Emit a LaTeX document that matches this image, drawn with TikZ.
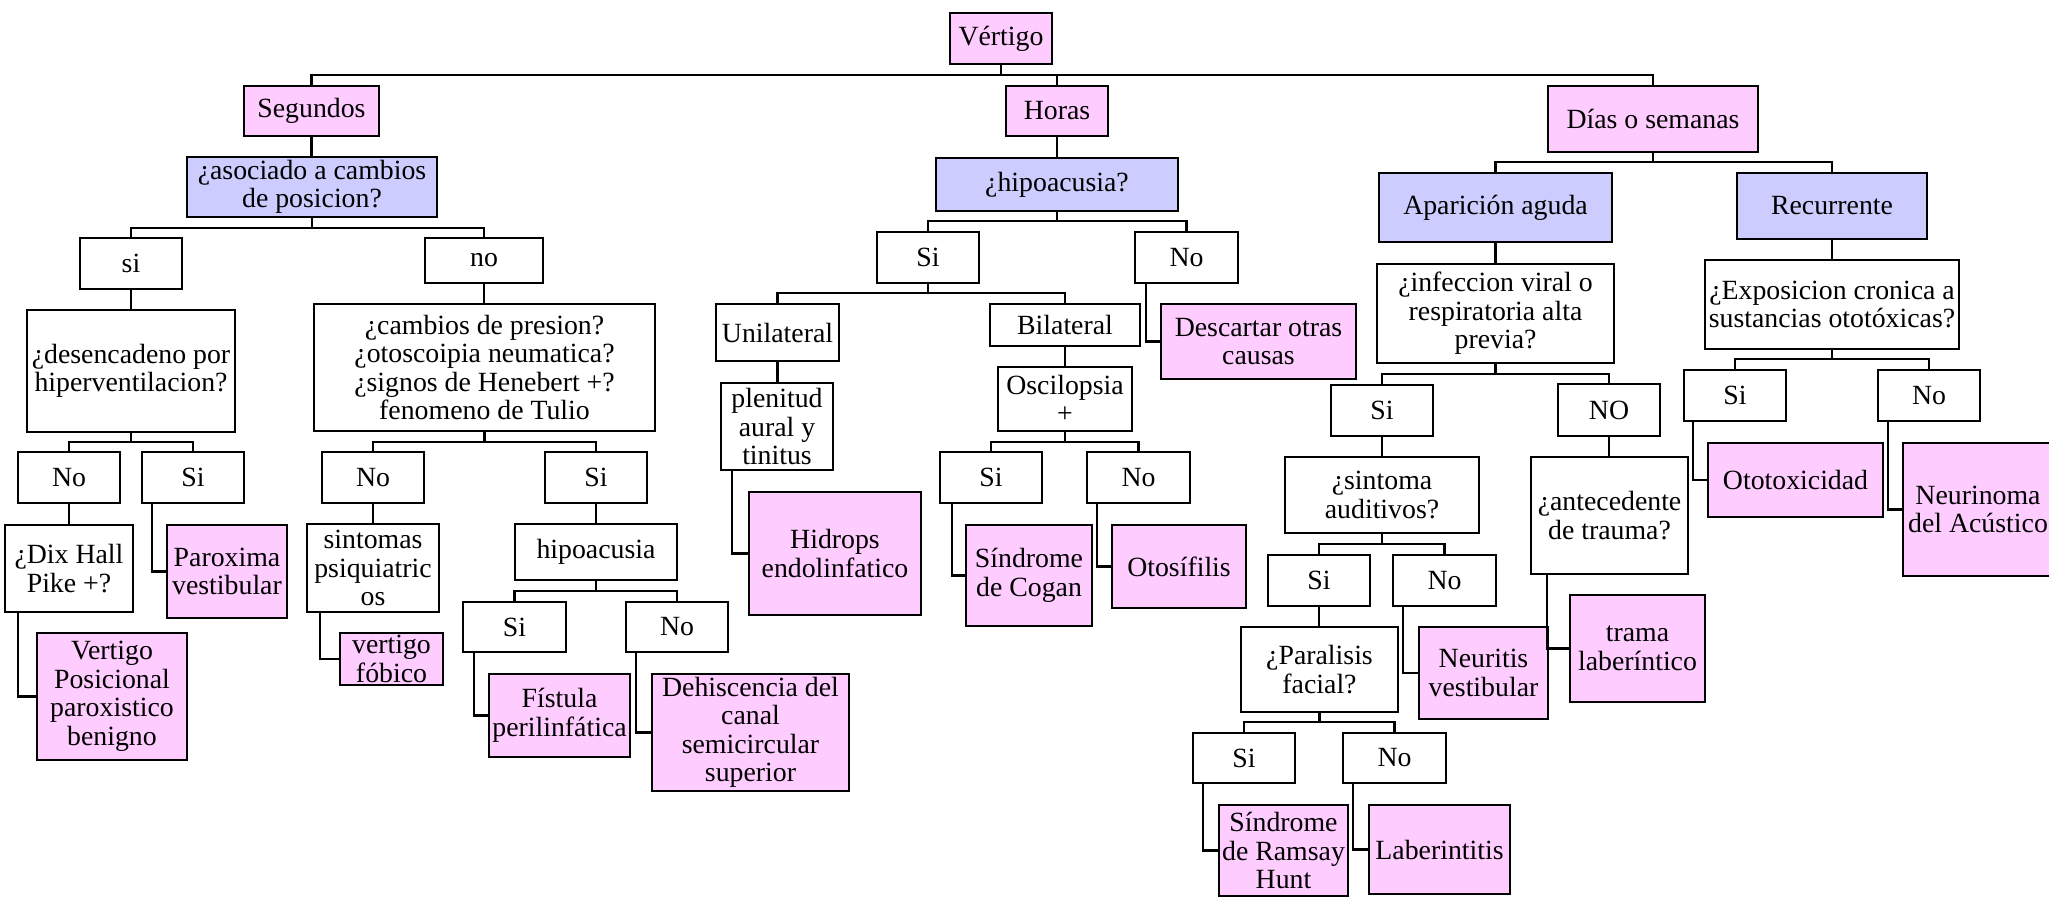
\documentclass[tikz,border=0pt]{standalone}
\usepackage{fontspec}
\setmainfont{Liberation Serif}
\definecolor{pk}{HTML}{FFCCFF}
\definecolor{bl}{HTML}{CCCCFF}
\tikzset{
  base/.style={rectangle, draw=black, line width=2.8pt, inner sep=0pt, outer sep=0pt,
    align=center, font=\fontsize{27.8pt}{28.5pt}\selectfont},
  wb/.style={base, fill=white},
  pb/.style={base, fill=pk},
  bb/.style={base, fill=bl},
  conn/.style={draw=black, line width=2.7pt, line cap=rect},
}
% #1 style, #2 name, #3 left, #4 top, #5 right, #6 bottom, #7 text
\newcommand{\mybox}[7]{%
  \node[#1, minimum width={(#5)-(#3)}, minimum height={(#6)-(#4)}]
    (#2) at ({((#3)+(#5))/2},{((#4)+(#6))/2}) {#7};}
\begin{document}
\begin{tikzpicture}[x=1pt,y=-1pt]
\useasboundingbox (0,0) rectangle (2049,898);
\fill[white] (0,0) rectangle (2049,898);

% ---------- nodes ----------
\mybox{pb}{V}{950}{13}{1052}{64}{Vértigo}
\mybox{pb}{Seg}{244}{86}{379}{136}{Segundos}
\mybox{pb}{Hor}{1006}{86}{1108}{136}{Horas}
\mybox{pb}{Dia}{1548}{86}{1758}{152}{Días o semanas}

% Segundos branch
\mybox{bb}{Aso}{187}{157}{437}{217}{¿asociado a cambios\\de posicion?}
\mybox{wb}{si}{80}{238}{182}{289}{si}
\mybox{wb}{no}{425}{238}{543}{283}{no}
\mybox{wb}{Des}{27}{310}{235}{432}{¿desencadeno por\\hiperventilacion?}
\mybox{wb}{Cam}{314}{304}{655}{431}{¿cambios de presion?\\¿otoscoipia neumatica?\\¿signos de Henebert +?\\fenomeno de Tulio}
\mybox{wb}{NoA}{18}{452}{120}{503}{No}
\mybox{wb}{SiA}{142}{452}{244}{503}{Si}
\mybox{wb}{Dix}{5}{525}{133}{612}{¿Dix Hall\\Pike +?}
\mybox{pb}{VPPB}{37}{633}{187}{760}{Vertigo\\Posicional\\paroxistico\\benigno}
\mybox{pb}{Parox}{167}{525}{287}{618}{Paroxima\\vestibular}
\mybox{wb}{NoB}{322}{452}{424}{503}{No}
\mybox{wb}{SiB}{545}{452}{647}{503}{Si}
\mybox{wb}{Sint}{307}{524}{439}{612}{sintomas\\psiquiatric\\os}
\mybox{pb}{Fob}{340}{633}{443}{685}{vertigo\\fóbico}
\mybox{wb}{Hipo}{515}{524}{677}{580}{hipoacusia}
\mybox{wb}{SiC}{463}{602}{566}{652}{Si}
\mybox{wb}{NoC}{626}{602}{728}{652}{No}
\mybox{pb}{Fist}{489}{674}{630}{757}{Fístula\\perilinfática}
\mybox{pb}{Dehi}{652}{674}{849}{791}{Dehiscencia del\\canal\\semicircular\\superior}

% Horas branch
\mybox{bb}{HipoQ}{936}{158}{1178}{211}{¿hipoacusia?}
\mybox{wb}{SiD}{877}{232}{979}{283}{Si}
\mybox{wb}{NoD}{1135}{232}{1238}{283}{No}
\mybox{wb}{Uni}{716}{304}{839}{361}{Unilateral}
\mybox{wb}{Bil}{990}{304}{1140}{346}{Bilateral}
\mybox{wb}{Plen}{721}{383}{833}{470}{plenitud\\aural y\\tinitus}
\mybox{pb}{Hid}{749}{492}{921}{615}{Hidrops\\endolinfatico}
\mybox{wb}{Osc}{998}{367}{1132}{431}{Oscilopsia\\+}
\mybox{pb}{Desc}{1161}{304}{1356}{379}{Descartar otras\\causas}
\mybox{wb}{SiE}{940}{452}{1042}{503}{Si}
\mybox{wb}{NoE}{1087}{452}{1190}{503}{No}
\mybox{pb}{Cog}{966}{525}{1092}{626}{Síndrome\\de Cogan}
\mybox{pb}{Otos}{1112}{525}{1246}{608}{Otosífilis}

% Dias branch
\mybox{bb}{Apa}{1379}{173}{1612}{242}{Aparición aguda}
\mybox{bb}{Rec}{1737}{173}{1927}{239}{Recurrente}
\mybox{wb}{Inf}{1377}{264}{1614}{363}{¿infeccion viral o\\respiratoria alta\\previa?}
\mybox{wb}{SiF}{1331}{385}{1433}{436}{Si}
\mybox{wb}{NoF}{1558}{384}{1660}{436}{NO}
\mybox{wb}{Sinto}{1285}{457}{1479}{533}{¿sintoma\\auditivos?}
\mybox{wb}{Ante}{1531}{457}{1688}{574}{¿antecedente\\de trauma?}
\mybox{wb}{SiG}{1268}{555}{1370}{606}{Si}
\mybox{wb}{NoG}{1393}{555}{1496}{606}{No}
\mybox{wb}{Par}{1241}{627}{1398}{712}{¿Paralisis\\facial?}
\mybox{pb}{Neur}{1419}{627}{1548}{719}{Neuritis\\vestibular}
\mybox{pb}{Trama}{1570}{595}{1705}{702}{trama\\laberíntico}
\mybox{wb}{SiH}{1193}{733}{1295}{783}{Si}
\mybox{wb}{NoH}{1343}{733}{1446}{783}{No}
\mybox{pb}{Ram}{1219}{805}{1348}{896}{Síndrome\\de Ramsay\\Hunt}
\mybox{pb}{Lab}{1369}{805}{1510}{894}{Laberintitis}
\mybox{wb}{Exp}{1705}{260}{1959}{349}{¿Exposicion cronica a\\sustancias ototóxicas?}
\mybox{wb}{SiI}{1684}{370}{1786}{421}{Si}
\mybox{wb}{NoI}{1878}{370}{1980}{421}{No}
\mybox{pb}{Otox}{1708}{443}{1883}{517}{Ototoxicidad}
\mybox{pb}{Neuri}{1903}{443}{2053}{576}{Neurinoma\\del Acústico}

% ---------- bus levels ----------
\coordinate (y0) at (0,75);
\coordinate (yAso) at (0,228);
\coordinate (yDes) at (0,442);
\coordinate (yCam) at (0,442);
\coordinate (yHipo) at (0,591);
\coordinate (yHQ) at (0,221);
\coordinate (ySiD) at (0,293);
\coordinate (yOsc) at (0,442);
\coordinate (yDia) at (0,162);
\coordinate (yInf) at (0,374);
\coordinate (ySinto) at (0,544);
\coordinate (yPar) at (0,722);
\coordinate (yExp) at (0,359);

% ---------- connectors ----------
\draw[conn] (V.south) -- (V.south |- y0) -| (Seg.north);
\draw[conn] (V.south |- y0) -| (Hor.north);
\draw[conn] (V.south |- y0) -| (Dia.north);

\draw[conn] (Seg.south) -- (Seg.south |- Aso.north);
\draw[conn] (Aso.south) -- (Aso.south |- yAso) -| (si.north);
\draw[conn] (Aso.south |- yAso) -| (no.north);
\draw[conn] (si.south) -- (si.south |- Des.north);
\draw[conn] (no.south) -- (no.south |- Cam.north);
\draw[conn] (Des.south) -- (Des.south |- yDes) -| (NoA.north);
\draw[conn] (Des.south |- yDes) -| (SiA.north);
\draw[conn] (NoA.south) -- (NoA.south |- Dix.north);
\draw[conn] ([xshift=13pt]Dix.south west) |- (VPPB.west);
\draw[conn] ([xshift=10pt]SiA.south west) |- (Parox.west);
\draw[conn] (Cam.south) -- (Cam.south |- yCam) -| (NoB.north);
\draw[conn] (Cam.south |- yCam) -| (SiB.north);
\draw[conn] (NoB.south) -- (NoB.south |- Sint.north);
\draw[conn] ([xshift=13pt]Sint.south west) |- (Fob.west);
\draw[conn] (SiB.south) -- (SiB.south |- Hipo.north);
\draw[conn] (Hipo.south) -- (Hipo.south |- yHipo) -| (SiC.north);
\draw[conn] (Hipo.south |- yHipo) -| (NoC.north);
\draw[conn] ([xshift=11pt]SiC.south west) |- (Fist.west);
\draw[conn] ([xshift=10pt]NoC.south west) |- (Dehi.west);

\draw[conn] (Hor.south) -- (Hor.south |- HipoQ.north);
\draw[conn] (HipoQ.south) -- (HipoQ.south |- yHQ) -| (SiD.north);
\draw[conn] (HipoQ.south |- yHQ) -| (NoD.north);
\draw[conn] (SiD.south) -- (SiD.south |- ySiD) -| (Uni.north);
\draw[conn] (SiD.south |- ySiD) -| (Bil.north);
\draw[conn] ([xshift=11pt]NoD.south west) |- (Desc.west);
\draw[conn] (Uni.south) -- (Uni.south |- Plen.north);
\draw[conn] ([xshift=11pt]Plen.south west) |- (Hid.west);
\draw[conn] (Bil.south) -- (Bil.south |- Osc.north);
\draw[conn] (Osc.south) -- (Osc.south |- yOsc) -| (SiE.north);
\draw[conn] (Osc.south |- yOsc) -| (NoE.north);
\draw[conn] ([xshift=12pt]SiE.south west) |- (Cog.west);
\draw[conn] ([xshift=10pt]NoE.south west) |- (Otos.west);

\draw[conn] (Dia.south) -- (Dia.south |- yDia) -| (Apa.north);
\draw[conn] (Dia.south |- yDia) -| (Rec.north);
\draw[conn] (Apa.south) -- (Apa.south |- Inf.north);
\draw[conn] (Inf.south) -- (Inf.south |- yInf) -| (SiF.north);
\draw[conn] (Inf.south |- yInf) -| (NoF.north);
\draw[conn] (SiF.south) -- (SiF.south |- Sinto.north);
\draw[conn] (NoF.south) -- (NoF.south |- Ante.north);
\draw[conn] (Sinto.south) -- (Sinto.south |- ySinto) -| (SiG.north);
\draw[conn] (Sinto.south |- ySinto) -| (NoG.north);
\draw[conn] (SiG.south) -- (SiG.south |- Par.north);
\draw[conn] ([xshift=10pt]NoG.south west) |- (Neur.west);
\draw[conn] ([xshift=16pt]Ante.south west) |- (Trama.west);
\draw[conn] (Par.south) -- (Par.south |- yPar) -| (SiH.north);
\draw[conn] (Par.south |- yPar) -| (NoH.north);
\draw[conn] ([xshift=10pt]SiH.south west) |- (Ram.west);
\draw[conn] ([xshift=10pt]NoH.south west) |- (Lab.west);

\draw[conn] (Rec.south) -- (Rec.south |- Exp.north);
\draw[conn] (Exp.south) -- (Exp.south |- yExp) -| (SiI.north);
\draw[conn] (Exp.south |- yExp) -| (NoI.north);
\draw[conn] ([xshift=9pt]SiI.south west) |- (Otox.west);
\draw[conn] ([xshift=10pt]NoI.south west) |- (Neuri.west);
\end{tikzpicture}
\end{document}
